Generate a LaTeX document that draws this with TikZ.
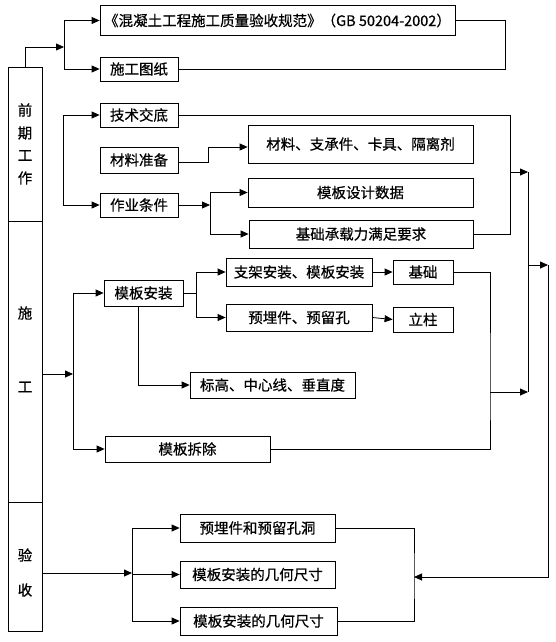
\documentclass[tikz,border=0pt]{standalone}
\usepackage{fontspec}
\newfontfamily\cjk[FakeBold=0.6]{Noto Sans CJK SC}
\usetikzlibrary{arrows.meta}
\begin{document}
\begin{tikzpicture}[x=1pt,y=-1pt,
  box/.style={draw=black,line width=0.8pt,rectangle,inner sep=0pt,font=\cjk\fontsize{14.5}{17}\selectfont},
  colbox/.style={draw=black,line width=0.8pt,rectangle,inner sep=0pt,minimum width=34pt},
  coltext/.style={inner sep=0pt,font=\cjk\fontsize{14.5}{17}\selectfont},
  ln/.style={line width=0.8pt,black},
  arr/.style={line width=0.8pt,black,-{Triangle[length=8pt,width=7pt]}}]
\useasboundingbox (0,0) rectangle (555,642);
% left column
\node[colbox,minimum height=154pt] (L1) at (25,144) {};
\node[colbox,minimum height=281pt] (L2) at (25,361.5) {};
\node[colbox,minimum height=129pt] (L3) at (25,566.5) {};
\node[coltext] (t1) at (25,110) {前};
\node[coltext] (t2) at (25,133) {期};
\node[coltext] (t3) at (25,155.5) {工};
\node[coltext] (t4) at (25,178) {作};
\node[coltext] (t5) at (25,313) {施};
\node[coltext] (t6) at (25,387) {工};
\node[coltext] (t7) at (25,555) {验};
\node[coltext] (t8) at (25,590) {收};
% preparation
\node[box,minimum width=355pt,minimum height=30pt] (B1) at (277.5,20.5) {《混凝土工程施工质量验收规范》（GB 50204-2002）};
\node[box,minimum width=78pt,minimum height=24pt] (B2) at (139,69) {施工图纸};
\node[box,minimum width=78pt,minimum height=24pt] (B3) at (139,115) {技术交底};
\node[box,minimum width=78pt,minimum height=26pt] (B4) at (139,160) {材料准备};
\node[box,minimum width=78pt,minimum height=24pt] (B5) at (139,205) {作业条件};
\node[box,minimum width=225pt,minimum height=38pt] (B6) at (360.5,144) {材料、支承件、卡具、隔离剂};
\node[box,minimum width=225pt,minimum height=29pt] (B7) at (360.5,192.5) {模板设计数据};
\node[box,minimum width=224pt,minimum height=28pt] (B8) at (361,234) {基础承载力满足要求};
% construction
\node[box,minimum width=79pt,minimum height=26pt] (C1) at (143.5,293) {模板安装};
\node[box,minimum width=146pt,minimum height=28pt] (C2) at (299,272) {支架安装、模板安装};
\node[box,minimum width=146pt,minimum height=27pt] (C3) at (299,317.5) {预埋件、预留孔};
\node[box,minimum width=60pt,minimum height=24pt] (C4) at (423,272) {基础};
\node[box,minimum width=60pt,minimum height=25pt] (C5) at (423,319.5) {立柱};
\node[box,minimum width=165pt,minimum height=26pt] (C6) at (272.5,385) {标高、中心线、垂直度};
\node[box,minimum width=165pt,minimum height=26pt] (C7) at (187.5,449) {模板拆除};
% acceptance
\node[box,minimum width=155pt,minimum height=28pt] (A1) at (257.5,528) {预埋件和预留孔洞};
\node[box,minimum width=155pt,minimum height=27pt] (A2) at (257.5,574.5) {模板安装的几何尺寸};
\node[box,minimum width=157pt,minimum height=28pt] (A3) at (258.5,621) {模板安装的几何尺寸};
% coordinates
\coordinate (j1) at (64,47);
\coordinate (r1) at (505,20.5);
\coordinate (j2) at (63,115);
\coordinate (j3) at (210,205);
\coordinate (r2) at (510,115);
\coordinate (m1) at (510,172);
\coordinate (m2) at (528,172);
\coordinate (m3) at (528,392);
\coordinate (m4) at (528,265);
\coordinate (m5) at (548,265);
\coordinate (k1) at (73,374);
\coordinate (k2) at (196,293);
\coordinate (k3) at (490,392);
\coordinate (a1) at (132,573);
\coordinate (a2) at (414,577);
% preparation connectors
\draw[arr] (L1.north) |- (j1);
\draw[arr] (j1) |- (B1.west);
\draw[arr] (j1) |- (B2.west);
\draw[ln] (B1.east) -- (r1) |- (B2.east);
\draw[arr] (j2) -- (B3.west);
\draw[arr] (j2) |- (B5.west);
\draw[arr] ([yshift=-2pt]B4.east) -- ++(30,0) |- ([yshift=-3pt]B6.west);
\draw[arr] (B5.east) -- (j3);
\draw[arr] (j3) |- (B7.west);
\draw[arr] (j3) |- (B8.west);
\draw[ln] (B3.east) -- (r2) |- (B8.east);
\draw[arr] (m1) -- (m2);
\draw[ln] (m2) -- (m3);
\draw[arr] (m4) -- (m5);
\draw[arr] (m5) |- (a2);
% construction connectors
\draw[arr] (L2.east |- k1) -- (k1);
\draw[arr] (k1) |- (C1.west);
\draw[arr] (k1) |- (C7.west);
\draw[ln] (C1.east) -- (k2);
\draw[arr] (k2) |- (C2.west);
\draw[arr] (k2) |- (C3.west);
\draw[arr] ([xshift=-5.5pt]C1.south) |- (C6.west);
\draw[arr] (C2.east) -- (C4.west);
\draw[arr] (C3.east) -- (C5.west);
\draw[ln] (C4.east) -| (k3) |- (C7.east);
\draw[arr] (k3) -- (m3);
% acceptance connectors
\draw[arr] (L3.east |- a1) -- (a1);
\draw[arr] (a1) |- (A1.west);
\draw[arr] (a1) |- (A2.west);
\draw[arr] (a1) |- (A3.west);
\draw[ln] (A1.east) -| (a2) |- (A3.east);
\end{tikzpicture}
\end{document}
